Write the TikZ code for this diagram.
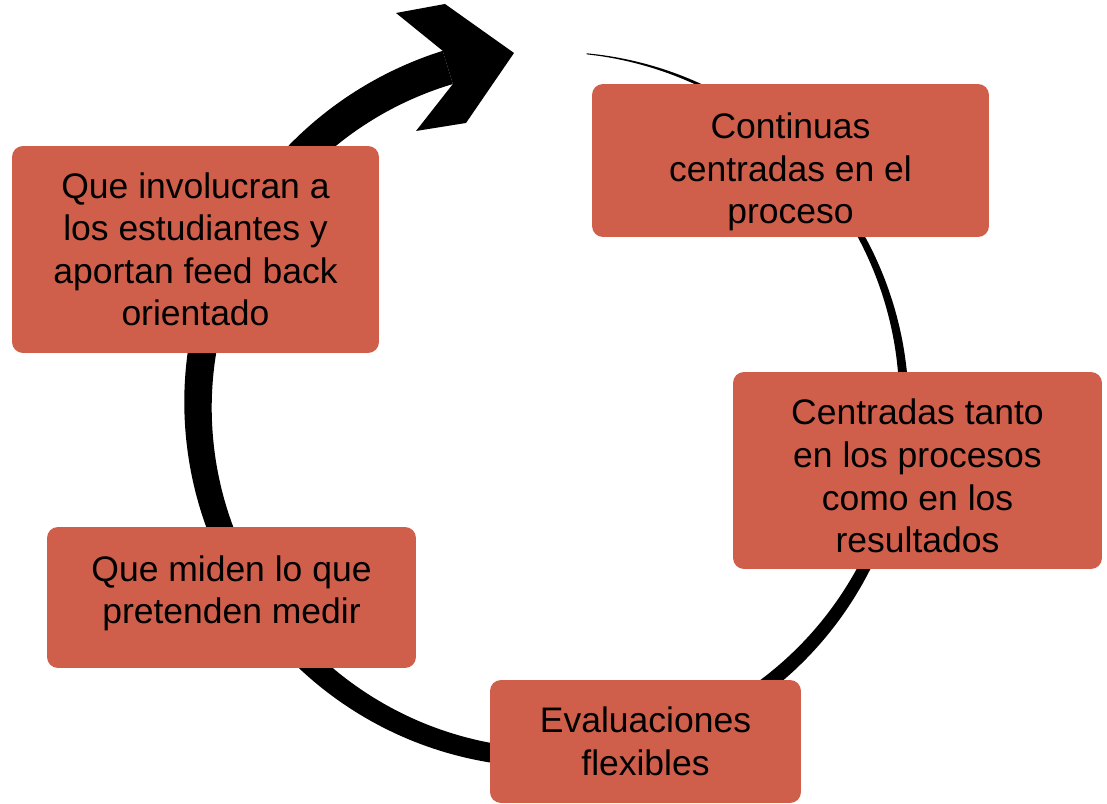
\documentclass[tikz,border=0pt]{standalone}
\usepackage{fontspec}
\setmainfont{Liberation Sans}
\definecolor{rojo}{RGB}{207,94,75}
\begin{document}
\begin{tikzpicture}[x=0.02cm,y=0.02cm,
		caja/.style={fill=rojo,rounded corners=0.22cm,inner sep=0pt,align=center,
			font=\fontsize{20.2}{24.2}\selectfont},
		declare function={wd(\a)=1+0.1*(84.2-\a);}]
	\useasboundingbox (0,0) rectangle (1107,804);
	% flecha circular, mas gruesa hacia la punta
	\fill plot[domain=84.2:-253,samples=160,smooth] ({551+(353+wd(\x)/2)*cos(\x)},{399+(353+wd(\x)/2)*sin(\x)})
		-- plot[domain=-253:84.2,samples=160,smooth] ({551+(353-wd(\x)/2)*cos(\x)},{399+(353-wd(\x)/2)*sin(\x)}) -- cycle;
	\coordinate (hsup) at ({551+(353+wd(-253)/2)*cos(-253)},{399+(353+wd(-253)/2)*sin(-253)});
	\coordinate (hinf) at ({551+(353-wd(-253)/2)*cos(-253)},{399+(353-wd(-253)/2)*sin(-253)});
	\fill (hsup) -- (396,791) -- (445,800) -- (514,751) -- (466,681) -- (416,673) -- (hinf) -- cycle;
	% cajas (los \rule bajan o suben un poco el texto)
	\foreach \n/\x/\y/\w/\h/\t in {
			c1/790.5/643.5/7.94/3.06/{\rule{0pt}{28pt}Continuas\\centradas en el\\proceso},
			c2/917.5/333.5/7.38/3.94/{\rule{0pt}{21pt}Centradas tanto\\en los procesos\\como en los\\resultados},
			c3/645.5/62.5/6.22/2.46/{Evaluaciones\\flexibles},
			c4/231.5/206.5/7.38/2.82/{Que miden lo que\\pretenden medir\rule[-9pt]{0pt}{9pt}},
			c5/195.5/554.5/7.34/4.14/{Que involucran a\\los estudiantes y\\aportan feed back\\orientado}} {
			\node[caja,minimum width=\w cm,minimum height=\h cm] (\n) at (\x,\y) {\t};
		}
\end{tikzpicture}
\end{document}
